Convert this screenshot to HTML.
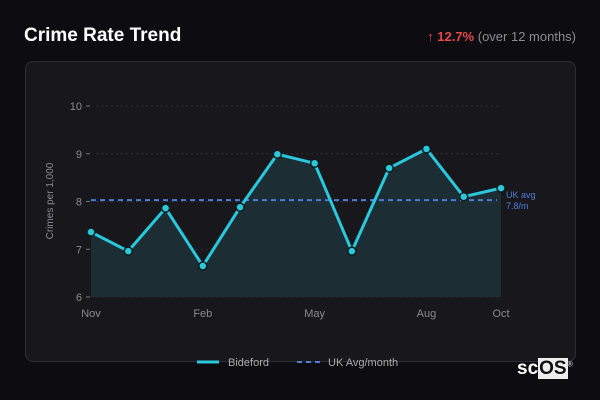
<!DOCTYPE html>
<html><head><meta charset="utf-8"><style>
body{margin:0;width:600px;height:400px;background:#0d0d11;font-family:"Liberation Sans",sans-serif;overflow:hidden;position:relative}
.title{position:absolute;left:24px;top:25px;color:#fff;font-weight:bold;font-size:19px}
.chg{position:absolute;right:24px;top:29px;font-size:13px;color:#8a8a90}
.chg b{color:#e54848}
.card{position:absolute;left:25px;top:61px;width:549px;height:299px;background:#18181c;border:1px solid #2e2e34;border-radius:8px}
</style></head><body>
<div class="title">Crime Rate Trend</div>
<div class="chg"><b style="font-weight:normal">↑</b> <b>12.7%</b> (over 12 months)</div>
<div class="card"></div>
<svg width="600" height="400" style="position:absolute;left:0;top:0" id="c"></svg>
<div style="position:absolute;left:517px;top:358px;font:bold 19px 'Liberation Sans',sans-serif;color:#fff">sc<span style="background:#eee;color:#111;padding:0 1px">OS</span><sup style="font-size:7px;color:#ccc">®</sup></div>
<script>
const months=["Nov","Dec","Jan","Feb","Mar","Apr","May","Jun","Jul","Aug","Sep","Oct"];
const values=[7.36,6.96,7.86,6.65,7.88,8.99,8.8,6.96,8.7,9.1,8.1,8.28];
const ukAvg=[8.03];
const yTicks=[6,7,8,9,10];
const xLabels=["Nov","Feb","May","Aug","Oct"];
const ns="http://www.w3.org/2000/svg",svg=document.getElementById('c');
const X=i=>91+i*(410/11),Y=v=>297-(v-6)*47.75;
function mk(t,a,p){const e=document.createElementNS(ns,t);for(const k in a)e.setAttribute(k,a[k]);(p||svg).appendChild(e);return e;}
yTicks.forEach(v=>{
const g=mk('line',{x1:96,x2:500,y1:Y(v),y2:Y(v),stroke:'#2c2c32','stroke-dasharray':'2,3'});


mk('line',{x1:86,x2:90,y1:Y(v),y2:Y(v),stroke:'#777'});
const t=mk('text',{x:82,y:Y(v)+4,'text-anchor':'end',fill:'#8a8a90','font-size':11});t.textContent=v;


});
xLabels.forEach(m=>{const i=months.indexOf(m);const t=mk('text',{x:X(i),y:317,'text-anchor':'middle',fill:'#8a8a90','font-size':11});t.textContent=m;

});
const yt=mk('text',{transform:'translate(53,201) rotate(-90)','text-anchor':'middle',fill:'#8a8a90','font-size':10});yt.textContent='Crimes per 1,000';


let pts=values.map((v,i)=>X(i)+','+Y(v)).join(' ');
const area=mk('polygon',{points:X(0)+','+Y(6)+' '+pts+' '+X(11)+','+Y(6),fill:'#1c2d33'});


const avg=mk('line',{x1:91,x2:497,y1:Y(ukAvg[0]),y2:Y(ukAvg[0]),stroke:'#4a7fd8','stroke-width':2,'stroke-dasharray':'5,4'});


const l1=mk('text',{x:506,y:198,fill:'#4a7fd8','font-size':9});l1.textContent='UK avg';


const l2=mk('text',{x:506,y:209,fill:'#4a7fd8','font-size':9});l2.textContent='7.8/m';


const ln=mk('polyline',{points:pts,fill:'none',stroke:'#2ac8dc','stroke-width':3,'stroke-linejoin':'round'});


values.forEach((v,i)=>{const c=mk('circle',{cx:X(i),cy:Y(v),r:4,fill:'#2ac8dc',stroke:'#0d1a1e','stroke-width':1.5});

});
const lg1=mk('line',{x1:197,x2:219,y1:362,y2:362,stroke:'#2ac8dc','stroke-width':3});


const lt1=mk('text',{x:228,y:366,fill:'#aaa','font-size':11});lt1.textContent='Bideford';


const lg2=mk('line',{x1:297,x2:321,y1:362,y2:362,stroke:'#4a7fd8','stroke-width':2,'stroke-dasharray':'5,4'});


const lt2=mk('text',{x:328,y:366,fill:'#aaa','font-size':11});lt2.textContent='UK Avg/month';


</script>
</body></html>
